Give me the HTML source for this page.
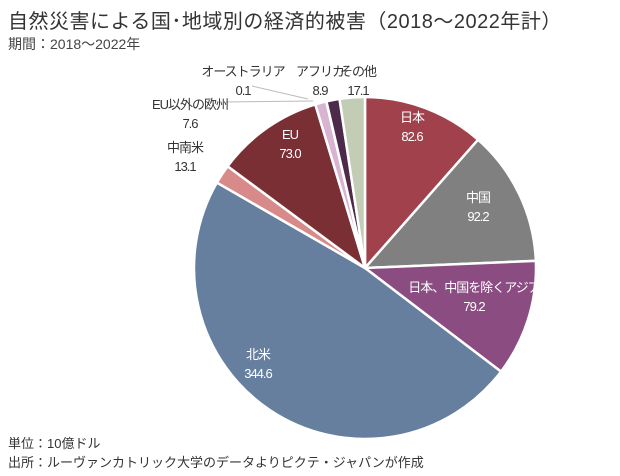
<!DOCTYPE html>
<html><head><meta charset="utf-8">
<style>
body{margin:0;background:#fff;}
#c{position:relative;width:620px;height:476px;font-family:"Liberation Sans","Noto Sans CJK JP",sans-serif;color:#333;}
.t{position:absolute;white-space:nowrap;}
</style></head><body>
<div id="c">
<div class="t" style="left:8px;top:5px;font-size:20px;letter-spacing:0.5px;color:#333">自然災害による国･地域別の経済的被害（2018～2022年計）</div>
<div class="t" style="left:8px;top:34px;font-size:14px;color:#444">期間：2018～2022年</div>
<svg id="pie" width="620" height="476" style="position:absolute;left:0;top:0"></svg>
<div class="t" style="left:8px;top:433px;font-size:13px;color:#333">単位：10億ドル</div>
<div class="t" style="left:8px;top:452px;font-size:13px;color:#333">出所：ルーヴァンカトリック大学のデータよりピクテ・ジャパンが作成</div>
</div>
<script>
const categories=["日本","中国","日本、中国を除くアジア","北米","中南米","EU","EU以外の欧州","オーストラリア","アフリカ","その他"];
const values=[82.6,92.2,79.2,344.6,13.1,73.0,7.6,0.1,8.9,17.1];
const valueLabels=["82.6","92.2","79.2","344.6","13.1","73.0","7.6","0.1","8.9","17.1"];
const colors=["#a0414b","#808080","#8b4c82","#667f9f","#d88a8a","#7a2f35","#d8b4d2","#9a9a9a","#4d2a4a","#c3cdb6"];
const labelPos=[[412,108,"#fff"],[478,188,"#fff"],[474,278,"#fff"],[258,345,"#fff"],[185,138,"#333"],[290,125,"#fff"],[190,95,"#333"],[243,62,"#333"],[320,62,"#333"],[358,62,"#333"]];
const ns="http://www.w3.org/2000/svg";
const svg=document.getElementById('pie');
const cx=365,cy=268,r=171;
const total=values.reduce((a,b)=>a+b,0);
function pt(a){return [cx+r*Math.sin(a),cy-r*Math.cos(a)];}
let a0=0;
values.forEach((v,i)=>{
  const a1=a0+v/total*2*Math.PI;
  const p0=pt(a0),p1=pt(a1);
  const large=(a1-a0)>Math.PI?1:0;
  const p=document.createElementNS(ns,'path');
  p.setAttribute('d',`M${cx},${cy}L${p0[0]},${p0[1]}A${r},${r} 0 ${large} 1 ${p1[0]},${p1[1]}Z`);
  p.setAttribute('fill',colors[i]);
  p.setAttribute('stroke','#fff');
  p.setAttribute('stroke-width','2.5');
  
  
  svg.appendChild(p);
  a0=a1;
});
[[6,[226,102,313,101]],[7,[252,86,308,99]]].forEach(([i,c])=>{
  const l=document.createElementNS(ns,'line');
  l.setAttribute('x1',c[0]);l.setAttribute('y1',c[1]);l.setAttribute('x2',c[2]);l.setAttribute('y2',c[3]);
  l.setAttribute('stroke','#bbb');l.setAttribute('stroke-width','1');
  
  
  svg.appendChild(l);
});
const cont=document.getElementById('c');
categories.forEach((c,i)=>{
  const d=document.createElement('div');
  d.className='t';
  d.style.left=labelPos[i][0]+'px';d.style.top=labelPos[i][1]+'px';
  d.style.color=labelPos[i][2];d.style.fontSize='13px';d.style.textAlign='center';d.style.lineHeight='19px';
  d.style.letterSpacing='-1px';
  d.style.transform='translateX(-50%)';
  d.innerHTML=c+'<br>'+valueLabels[i];
  
  
  cont.appendChild(d);
});
</script>
</body></html>
